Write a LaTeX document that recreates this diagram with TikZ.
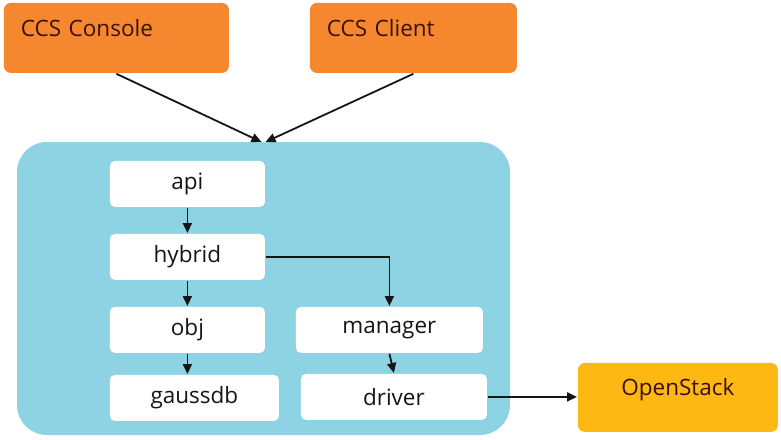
\documentclass[tikz,border=0pt]{standalone}
\usepackage{fontspec}
\setmainfont{Open Sans}
\usetikzlibrary{arrows.meta, positioning}
\definecolor{corange}{HTML}{F5872E}
\definecolor{cyellow}{HTML}{FDB813}
\definecolor{cblue}{HTML}{8ED3E3}
\definecolor{cink}{HTML}{151515}
\definecolor{cbrown}{HTML}{3A1010}
\tikzset{
  every picture/.style={font=\fontsize{22.5}{26}\selectfont, line width=1.8pt},
  client/.style={fill=#1, text=cbrown, rounded corners=7pt, anchor=north west, inner ysep=0pt},
  client/.default=corange,
  module/.style={fill=white, text=cink, rounded corners=5pt, anchor=north west, inner sep=0pt, minimum height=46pt},
  arrow/.style={-{Triangle[length=10pt, width=9pt]}, draw=cink},
}

\begin{document}
\begin{tikzpicture}[x=1pt, y=-1pt]
  \useasboundingbox (0,0) rectangle (781,439);
  % callers
  \node[client, text width=191pt, inner xsep=17pt, align=left, text height=34pt, text depth=36pt] (console) at (3,2) {CCS Console};
  \node[client, text width=173pt, inner xsep=17pt, align=left, text height=34pt, text depth=36pt] (cclient) at (309,2) {CCS Client};
  % service
  \fill[cblue, rounded corners=30pt] (17,142) rectangle (510,435);
  \coordinate (core) at (263.5,142);
  \node[module, minimum width=155pt] (api) at (109,160) {api};
  \node[module, minimum width=155pt] (hybrid) at (109,233) {hybrid};
  \node[module, minimum width=155pt] (obj) at (109,306) {obj};
  \node[module, minimum width=169pt] (gaussdb) at (109,374) {gaussdb};
  \node[module, minimum width=187pt] (manager) at (295,306) {manager};
  \node[module, minimum width=186pt] (driver) at (300,373) {driver};
  % backend
  \node[client=cyellow, text width=200pt, inner xsep=0pt, align=center, text height=33pt, text depth=36pt] (openstack) at (577,362) {OpenStack};
  % calls
  \draw[arrow] (console.south) -- ([xshift=-2pt]core);
  \draw[arrow] (cclient.south) -- ([xshift=2pt]core);
  \draw[arrow] (api.south) -- (hybrid.north);
  \draw[arrow] (hybrid.south) -- (obj.north);
  \draw[arrow] (obj.south) -- (obj.south |- gaussdb.north);
  \draw[arrow] (hybrid.east) -| (manager.north);
  \draw[arrow] (manager.south) -- (driver.north);
  \draw[arrow] (driver.east) -- (driver.east -| openstack.west);
\end{tikzpicture}
\end{document}
